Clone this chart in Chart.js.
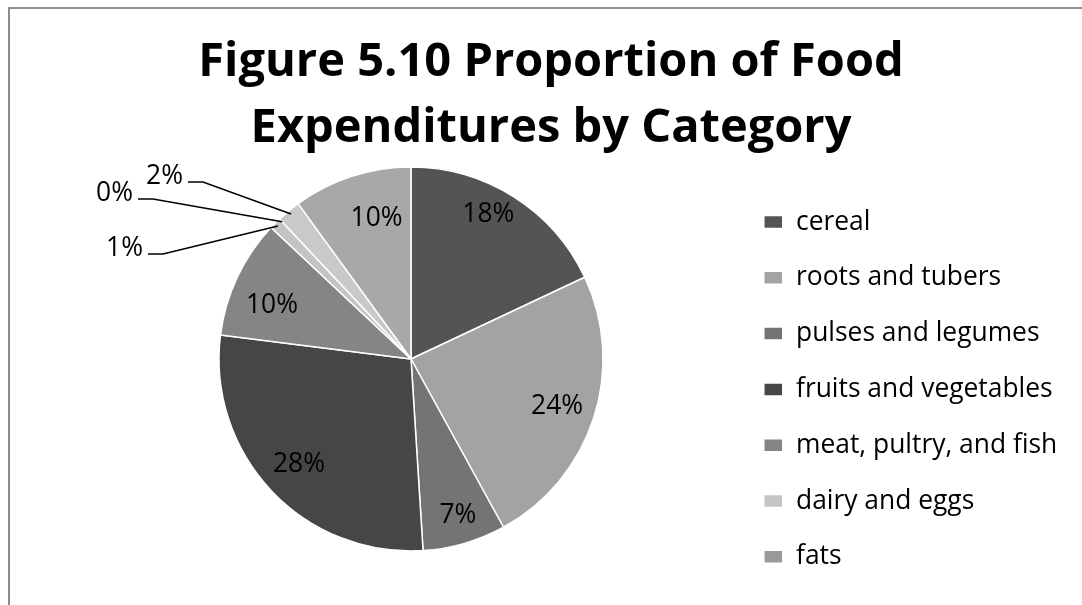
<!DOCTYPE html>
<html>
<head>
<meta charset="utf-8">
<title>Figure 5.10 Proportion of Food Expenditures by Category</title>
<script src="https://cdn.jsdelivr.net/npm/chart.js@4.4.1/dist/chart.umd.min.js"></script>
<style>
  html, body { margin: 0; padding: 0; background: #fff; overflow: hidden; }
  .frame {
    position: absolute; left: 8px; top: 7px; width: 2000px; height: 2000px;
    border-left: 2px solid #8c8c8c; border-top: 2px solid #8c8c8c;
  }
  #foodChart { position: absolute; left: 0; top: 0; display: block; }
</style>
</head>
<body>
<div class="frame"></div>
<canvas id="foodChart" width="1082" height="605"></canvas>
<script>
const titleLines = ['Figure 5.10 Proportion of Food', 'Expenditures by Category'];

// categories in slice order (the last two have no entry in the legend of the original)
const categories = [
  'cereal',
  'roots and tubers',
  'pulses and legumes',
  'fruits and vegetables',
  'meat, pultry, and fish',
  'dairy and eggs',
  'fats',
  'unnamed A',
  'unnamed B'
];
const shares = [18, 24, 7, 28, 10, 1, 0, 2, 10];
const sliceColors = ['#545454', '#a3a3a3', '#747474', '#464646', '#858585', '#c4c4c4', '#9a9a9a', '#c9c9c9', '#a8a8a8'];
const legendCount = 7;

// small slices get a label outside with a leader line (elbow offset from pie centre)
const callouts = { 5: [-248, -105], 6: [-258, -160], 7: [-208, -177] };
// small shifts of the inside labels, as the original placed them
const labelNudge = { 0: [-5, -15], 2: [4, 9], 4: [0, 12], 8: [13, 6] };

const family = "'Open Sans', sans-serif";

// pick a font size so a piece of text has the width it has in the picture
const measure = document.createElement('canvas').getContext('2d');
const fitSize = (text, weight, width) => {
  measure.font = weight + ' 100px ' + family;
  return Math.round(100 * width / measure.measureText(text).width * 10) / 10;
};

const titleSize = fitSize(titleLines[0], 'bold', 705);
const legendSize = fitSize('meat, pultry, and fish', 'normal', 261);
const valueSize = fitSize('10%', 'normal', 52);

// layout: pie centre (411, 359) r=192, legend text from x=796, first legend row at y=222
const W = 1082, H = 605;
const pieX = 411, pieY = 359, pieR = 192;
const boxW = 19;
const stride = 55.8;
const legendPad = stride - legendSize;
measure.font = 'normal ' + legendSize + 'px ' + family;
const legendWidth = legendPad + boxW + legendSize / 2 + measure.measureText('meat, pultry, and fish').width + 10;
const legendLeft = 796 - boxW - legendSize / 2 - legendPad;
const padLeft = 2 * pieX - legendLeft;
const padRight = W - legendLeft - legendWidth;
const chartTop = 2 * pieY - H;
const legendTitleGap = 2 * 222 - chartTop - H + 6 * stride;

const figureTitle = {
  id: 'figureTitle',
  afterDraw(chart) {
    const ctx = chart.ctx;
    ctx.save();
    ctx.font = 'bold ' + titleSize + 'px ' + family;
    ctx.fillStyle = '#000';
    ctx.textAlign = 'center';
    ctx.textBaseline = 'middle';
    titleLines.forEach((line, i) => ctx.fillText(line, 551, 63 + i * 66));
    ctx.restore();
  }
};

const pieLabels = {
  id: 'pieLabels',
  afterDatasetsDraw(chart) {
    const ctx = chart.ctx;
    const meta = chart.getDatasetMeta(0);
    ctx.save();
    ctx.font = 'normal ' + valueSize + 'px ' + family;
    ctx.fillStyle = '#000';
    ctx.strokeStyle = '#000';
    ctx.lineWidth = 1.5;
    ctx.textBaseline = 'middle';
    meta.data.forEach((arc, i) => {
      const { x, y, startAngle, endAngle, outerRadius } = arc.getProps(['x', 'y', 'startAngle', 'endAngle', 'outerRadius'], true);
      const mid = (startAngle + endAngle) / 2;
      const text = shares[i] + '%';
      const elbow = callouts[i];
      if (elbow) {
        const ex = x + elbow[0];
        const ey = y + elbow[1];
        ctx.beginPath();
        ctx.moveTo(ex - 15, ey);
        ctx.lineTo(ex, ey);
        ctx.lineTo(x + Math.cos(mid) * outerRadius * 0.98, y + Math.sin(mid) * outerRadius * 0.98);
        ctx.stroke();
        ctx.textAlign = 'right';
        ctx.fillText(text, ex - 20, ey - 6);
      } else {
        const nudge = labelNudge[i] || [0, 0];
        ctx.textAlign = 'center';
        ctx.fillText(text, x + Math.cos(mid) * outerRadius * 0.8 + nudge[0], y + Math.sin(mid) * outerRadius * 0.8 + nudge[1]);
      }
    });
    ctx.restore();
  }
};

new Chart(document.getElementById('foodChart'), {
  type: 'pie',
  data: {
    labels: categories,
    datasets: [{
      data: shares,
      backgroundColor: sliceColors,
      borderColor: '#ffffff',
      borderWidth: 1.5,
      radius: pieR
    }]
  },
  options: {
    responsive: false,
    animation: false,
    events: [],
    layout: {
      padding: { left: padLeft, right: padRight, top: chartTop, bottom: 0 }
    },
    plugins: {
      tooltip: { enabled: false },
      title: { display: false },
      legend: {
        position: 'right',
        fullSize: false,
        title: { display: true, text: '', font: { size: 2, lineHeight: '0px' }, padding: { top: legendTitleGap, bottom: 0 } },
        labels: {
          color: '#000',
          boxWidth: boxW,
          boxHeight: 13,
          padding: legendPad,
          font: { family: family, size: legendSize },
          filter: (item) => item.index < legendCount
        }
      }
    }
  },
  plugins: [pieLabels, figureTitle]
});
</script>
</body>
</html>
